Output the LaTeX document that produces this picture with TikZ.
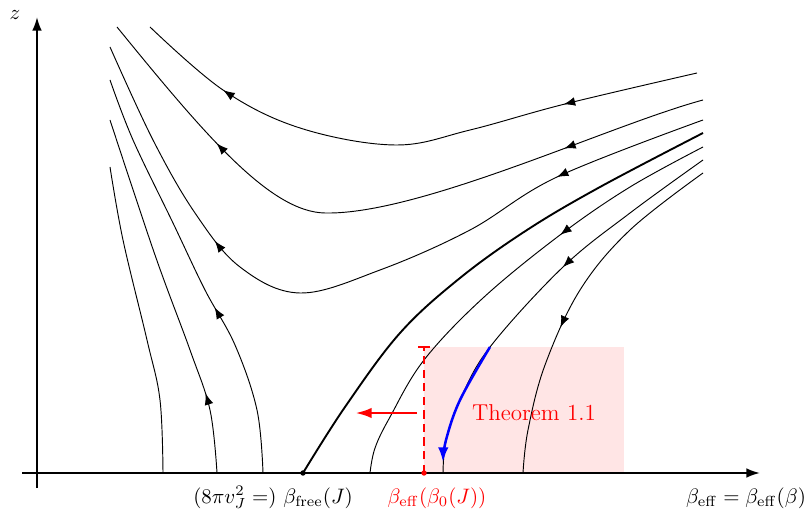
\documentclass[tikz,border=0pt]{standalone}
\usetikzlibrary{arrows.meta,decorations.markings}
\newcommand\flowtip{\arrow{Latex[length=5.5pt,width=4.2pt]}}
\tikzset{
  flow/.style={line width=0.45pt},
  axisline/.style={line width=0.9pt,-{Latex[length=6.5pt,width=4.6pt]}},
  arone/.style={postaction={decorate},decoration={markings,mark=at position #1 with {\flowtip}}},
  artwo/.style 2 args={postaction={decorate},decoration={markings,mark=at position #1 with {\flowtip},mark=at position #2 with {\flowtip}}},
  lbl/.style={anchor=base,inner sep=0pt},
  sm/.style={smooth,tension=0.6},
}
\begin{document}
\begin{tikzpicture}[x=0.4785pt,y=-0.4785pt]
\useasboundingbox (0,0) rectangle (808,513);
% shaded region
\fill[red!10] (424,347) rectangle (624,473);
% axes
\coordinate (xs) at (22,473);
\coordinate (xe) at (760,473);
\coordinate (ys) at (37,488);
\coordinate (ye) at (37,17);
\draw[axisline] (xs) -- (xe);
\draw[axisline] (ys) -- (ye);
% upper flow lines
\draw[flow,artwo={0.232}{0.836}] plot[sm] coordinates {(697,73) (565,104) (470,130) (395,145) (300,128) (223,90) (150,27)};
\draw[flow,artwo={0.216}{0.775}] (703,100) .. controls (610,125) and (420,215) .. (325,213) .. controls (270,212) and (205,135) .. (117,27);
\draw[flow,artwo={0.205}{0.711}] plot[sm] coordinates {(703,120) (557,177) (470,230) (380,270) (300,293) (240,267) (195,213) (153,140) (110,47)};
% left flow lines
\draw[flow,arone=0.411] plot[sm] coordinates {(263,473) (257,410) (235,345) (205,290) (173,223) (133,140) (110,80)};
\draw[flow,arone=0.218] plot[sm] coordinates {(217,473) (210,410) (190,350) (155,255) (110,120)};
\draw[flow] plot[sm] coordinates {(163,473) (160,400) (147,340) (123,240) (110,167)};
% separatrix
\draw[line width=0.9pt] plot[sm] coordinates {(303,473) (345,407) (400,333) (460,278) (527,230) (600,187) (703,133)};
% right flow lines
\draw[flow,arone=0.35] plot[sm] coordinates {(703,147) (630,187) (560,235) (483,298) (424,360) (390,417) (375,448) (370,473)};
\draw[flow,arone=0.419] plot[sm] coordinates {(703,160) (630,213) (563,267) (490,347) (460,400) (446,440) (443,473)};
\draw[flow,arone=0.585] plot[sm] coordinates {(703,173) (630,230) (580,290) (545,365) (528,430) (523,473)};
% blue piece
\draw[blue,line width=1.2pt,-{Latex[length=7pt,width=5pt]}] plot[sm] coordinates {(490,347) (460,400) (446,440) (443,462)};
% red marks
\coordinate (rb) at (424,473);
\coordinate (rt) at (424,347);
\draw[red,line width=0.5pt,dash pattern=on 4pt off 2.5pt] (rb) -- (rt);
\draw[red,line width=0.5pt] (418,347) -- (430,347);
\coordinate (ra) at (417,413);
\coordinate (rz) at (355,413);
\draw[red,line width=1.4pt,-{Latex[length=8pt,width=5pt]}] (ra) -- (rz);
\fill (303,473) circle (1.3pt);
\fill[red] (rb) circle (1.3pt);
% labels
\node[red,font=\fontsize{11}{13}\selectfont] (thm) at (534,413) {Theorem 1.1};
\node[lbl] (lz) at (15,20) {$z$};
\node[lbl] (lfree) at (273,503) {$(8\pi v_J^2=)\ \beta_{\mathrm{free}}(J)$};
\node[lbl,red] (leff) at (437,503) {$\beta_{\mathrm{eff}}(\beta_0(J))$};
\node[lbl] (lax) at (746,503) {$\beta_{\mathrm{eff}}=\beta_{\mathrm{eff}}(\beta)$};
\end{tikzpicture}
\end{document}
